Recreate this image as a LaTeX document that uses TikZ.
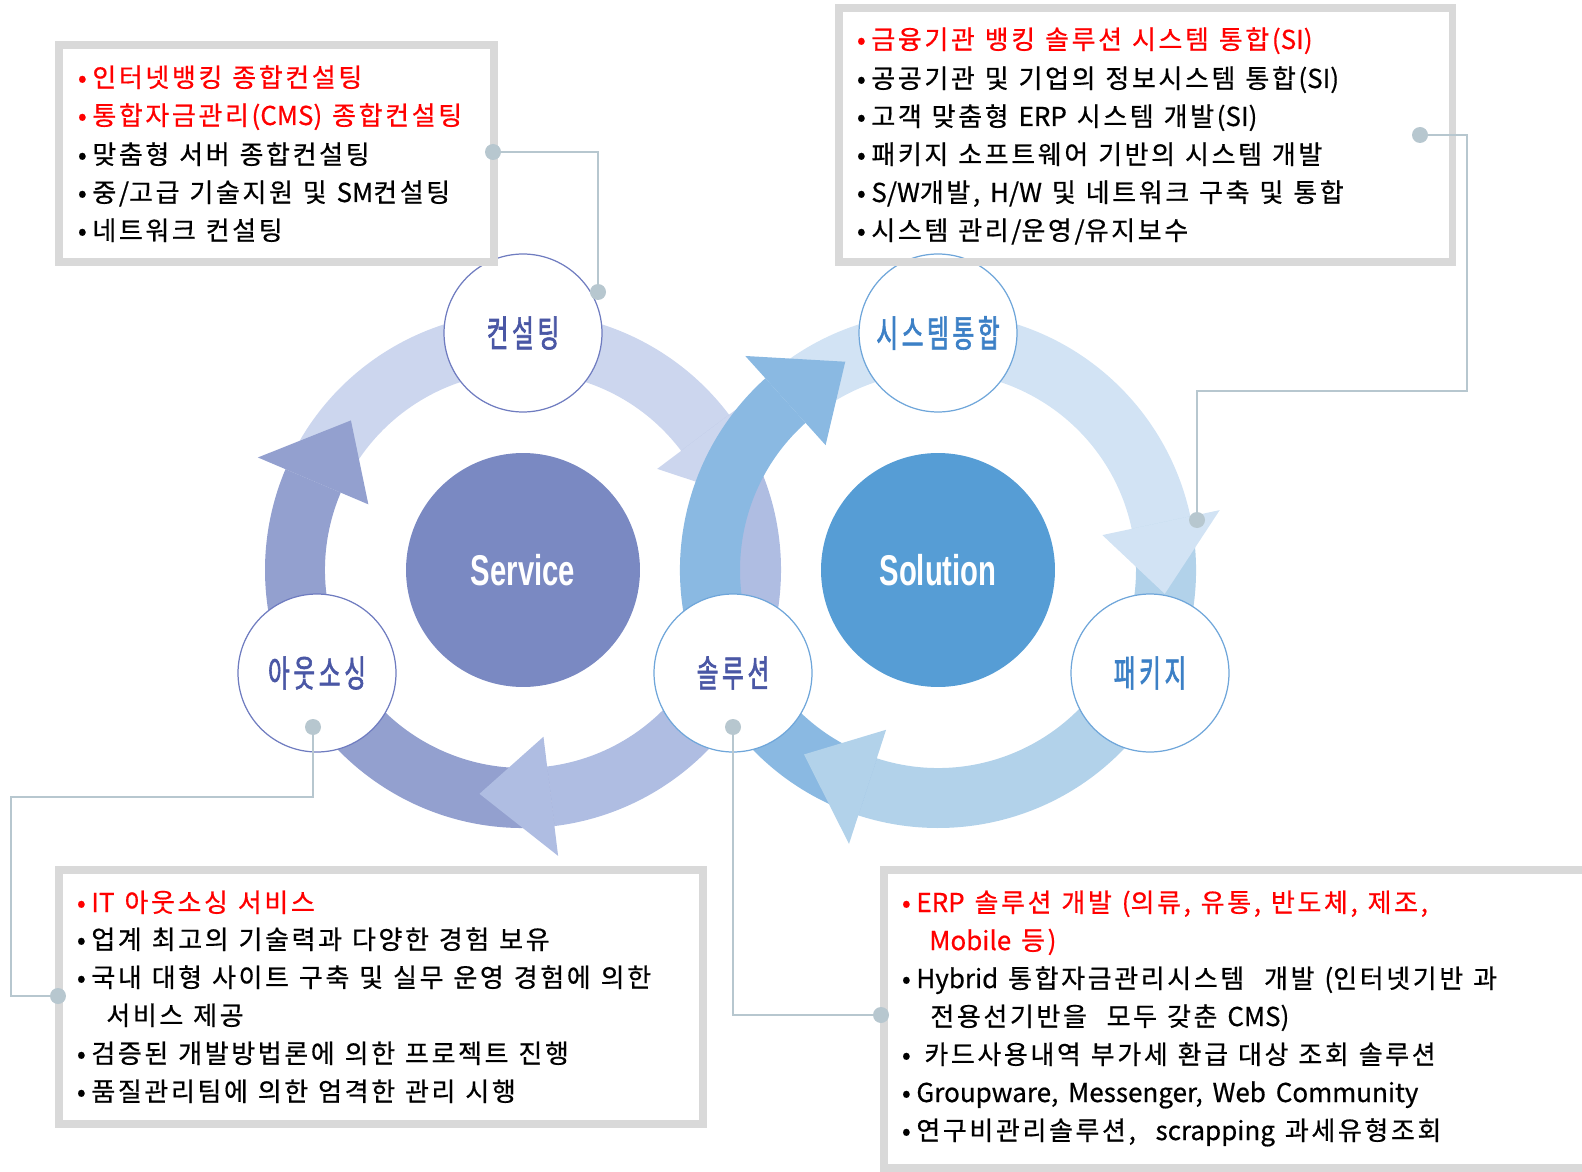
\documentclass[tikz,border=0pt]{standalone}
\usepackage{fontspec}
\setmainfont{Noto Sans CJK KR}[WordSpace=1.7, FakeBold=0.6]
\newfontfamily\lblfont[FakeStretch=0.64, FakeBold=1.6]{Noto Sans CJK KR}
\newfontfamily\hubfont[FakeStretch=0.68]{Liberation Sans}

% a little air after every Hangul syllable
\XeTeXinterchartokenstate=1
\newXeTeXintercharclass\hangulclass
\count255="AC00
\loop
  \XeTeXcharclass\count255=\hangulclass
  \ifnum\count255<"D7A3 \advance\count255 by 1 \repeat
\XeTeXinterchartoks\hangulclass\hangulclass={\kern0.1em}
\XeTeXinterchartoks\hangulclass 0={\kern0.1em}

\definecolor{svcA}{HTML}{CCD6EE}
\definecolor{svcB}{HTML}{AFBDE2}
\definecolor{svcC}{HTML}{93A0CF}
\definecolor{svcHub}{HTML}{7A89C2}
\definecolor{svcEdge}{HTML}{6F7CC0}
\definecolor{svcText}{HTML}{4A57A5}
\definecolor{solA}{HTML}{D2E3F4}
\definecolor{solB}{HTML}{B2D2EA}
\definecolor{solC}{HTML}{8AB9E2}
\definecolor{solHub}{HTML}{569DD5}
\definecolor{solEdge}{HTML}{6FA6DA}
\definecolor{solText}{HTML}{3C80C6}
\definecolor{lnk}{HTML}{B7C7CF}
\definecolor{boxEdge}{HTML}{D9D9D9}

% ring arrow: center, start, head base, colour
\newcommand{\ringbody}[4]{\fill[#4, shift={#1}] (#2:258) arc[start angle=#2, end angle=#3, radius=258] -- (#3:198) arc[start angle=#3, end angle=#2, radius=198] -- cycle;}
% ring arrow head: center, base, tip, colour
\newcommand{\ringhead}[4]{\fill[#4, shift={#1}] (#2:168) -- (#2:288) -- (#3:228) -- cycle;}
\newcommand{\bul}{\makebox[11.4pt][c]{•}}

\begin{document}
\begin{tikzpicture}[x=0.02cm, y=-0.02cm,
    stepnode/.style={circle, fill=white, draw=#1, line width=0.7pt, minimum size=3.16cm, inner sep=0pt, font=\lblfont\fontsize{21}{21}\selectfont},
    hub/.style={circle, fill=#1, minimum size=4.68cm, inner sep=0pt, text=white, font=\hubfont\bfseries\fontsize{24.5}{24.5}\selectfont},
    itemline/.style={anchor=base west, inner sep=0pt, font=\fontsize{14.8}{18}\selectfont},
    hot/.style={itemline, text=red},
    infobox/.style={draw=boxEdge, line width=4pt},
    link/.style={draw=lnk, line width=1.1pt},
    pin/.style={circle, fill=lnk, inner sep=0pt, minimum size=0.32cm}]
  \useasboundingbox (0,0) rectangle (1582,1172);

  % Service ring
  \ringbody{(523,570)}{-157}{-37}{svcA}
  \ringbody{(523,570)}{-37}{83}{svcB}
  \ringbody{(523,570)}{83}{203}{svcC}
  \ringhead{(523,570)}{-37}{-19}{svcA}
  \ringhead{(523,570)}{83}{101}{svcB}
  \ringhead{(523,570)}{203}{221}{svcC}

  % Solution ring
  \ringbody{(938,570)}{-132}{-12}{solA}
  \ringbody{(938,570)}{-12}{108}{solB}
  \ringbody{(938,570)}{108}{228}{solC}
  \ringhead{(938,570)}{-12}{6}{solA}
  \ringhead{(938,570)}{108}{126}{solB}
  \ringhead{(938,570)}{228}{246}{solC}

  \node[hub=svcHub] (service) at (523,570) {Service};
  \node[hub=solHub] (solution) at (938,570) {Solution};

  \node[stepnode=svcEdge, text=svcText] (consult) at (523,333) {컨설팅};
  \node[stepnode=svcEdge, text=svcText] (outsrc) at (317,673) {아웃소싱};
  \node[stepnode=solEdge, text=svcText] (solu) at (733,673) {솔루션};
  \node[stepnode=solEdge, text=solText] (sysint) at (938,333) {시스템통합};
  \node[stepnode=solEdge, text=solText] (pkg) at (1150,673) {패키지};

  % boxes
  \draw[infobox] (59,45) rectangle (494,262);
  \draw[infobox] (839,8) rectangle (1452,262);
  \draw[infobox] (59,870) rectangle (703,1124);
  \draw[infobox] (884,870) rectangle (1600,1168);

  % connectors
  \node[pin] (p1) at (493,152) {};
  \node[pin] (p2) at (598,292) {};
  \node[pin] (p3) at (1420,135) {};
  \node[pin] (p4) at (1197,520) {};
  \node[pin] (p5) at (313,727) {};
  \node[pin] (p6) at (58,996) {};
  \node[pin] (p7) at (733,727) {};
  \node[pin] (p8) at (881,1015) {};
  \draw[link] (p1.center) -| (p2.center);
  \draw[link] (p3.center) -| (1467,391) -| (p4.center);
  \draw[link] (p5.center) |- (11,797) |- (p6.center);
  \draw[link] (p7.center) |- (p8.center);

  % consulting box
  \node[hot] (tl1) at (72,87) {\bul 인터넷뱅킹 종합컨설팅};
  \node[hot] (tl2) at (72,125) {\bul 통합자금관리(CMS) 종합컨설팅};
  \node[itemline] (tl3) at (72,164) {\bul 맞춤형 서버 종합컨설팅};
  \node[itemline] (tl4) at (72,202) {\bul 중/고급 기술지원 및 SM컨설팅};
  \node[itemline] (tl5) at (72,240) {\bul 네트워크 컨설팅};

  % system integration box
  \node[hot] (tr1) at (851,49) {\bul 금융기관 뱅킹 솔루션 시스템 통합(SI)};
  \node[itemline] (tr2) at (851,88) {\bul 공공기관 및 기업의 정보시스템 통합(SI)};
  \node[itemline] (tr3) at (851,126) {\bul 고객 맞춤형 ERP 시스템 개발(SI)};
  \node[itemline] (tr4) at (851,164) {\bul 패키지 소프트웨어 기반의 시스템 개발};
  \node[itemline] (tr5) at (851,202) {\bul S/W개발, H/W 및 네트워크 구축 및 통합};
  \node[itemline] (tr6) at (851,240) {\bul 시스템 관리/운영/유지보수};

  % outsourcing box
  \node[hot] (bl1) at (71,912) {\bul IT 아웃소싱 서비스};
  \node[itemline] (bl2) at (71,949) {\bul 업계 최고의 기술력과 다양한 경험 보유};
  \node[itemline] (bl3) at (71,987) {\bul 국내 대형 사이트 구축 및 실무 운영 경험에 의한};
  \node[itemline] (bl4) at (106,1025) {서비스 제공};
  \node[itemline] (bl5) at (71,1063) {\bul 검증된 개발방법론에 의한 프로젝트 진행};
  \node[itemline] (bl6) at (71,1101) {\bul 품질관리팀에 의한 엄격한 관리 시행};

  % solution box
  \node[hot] (br1) at (896,912) {\bul ERP 솔루션 개발 (의류, 유통, 반도체, 제조,};
  \node[hot] (br2) at (929,950) {Mobile 등)};
  \node[itemline] (br3) at (896,988) {\bul Hybrid 통합자금관리시스템\ \ 개발 (인터넷기반 과};
  \node[itemline] (br4) at (930,1026) {전용선기반을\ \ 모두 갖춘 CMS)};
  \node[itemline] (br5) at (896,1064) {\bul\hspace{0.16cm}카드사용내역 부가세 환급 대상 조회 솔루션};
  \node[itemline] (br6) at (896,1102) {\bul Groupware, Messenger, Web Community};
  \node[itemline] (br7) at (896,1140) {\bul 연구비관리솔루션,\ \ scrapping 과세유형조회};
\end{tikzpicture}
\end{document}
